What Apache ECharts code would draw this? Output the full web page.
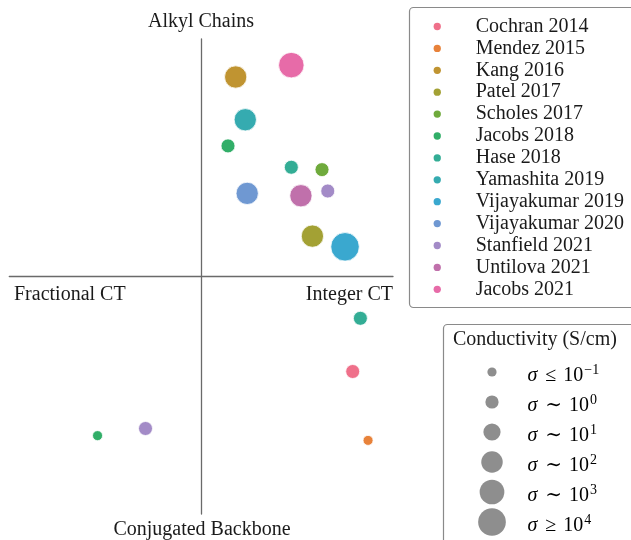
<!DOCTYPE html>
<html><head><meta charset="utf-8">
<script src="https://cdn.jsdelivr.net/npm/echarts@6/dist/echarts.min.js"></script>
<style>html,body{margin:0;padding:0;background:#fff}#c{width:631px;height:540px}</style>
</head><body><div id="c"></div>
<script>
// ---- data ----
const studies = ['Cochran 2014','Mendez 2015','Kang 2016','Patel 2017','Scholes 2017','Jacobs 2018','Hase 2018','Yamashita 2019','Vijayakumar 2019','Vijayakumar 2020','Stanfield 2021','Untilova 2021','Jacobs 2021'];
const pointStudy = ['Cochran 2014','Mendez 2015','Kang 2016','Patel 2017','Scholes 2017','Jacobs 2018','Jacobs 2018','Hase 2018','Hase 2018','Yamashita 2019','Vijayakumar 2019','Vijayakumar 2020','Stanfield 2021','Stanfield 2021','Untilova 2021','Jacobs 2021'];
// x: fractional (-) vs integer (+) charge transfer; y: conjugated backbone (-) vs alkyl chains (+)
const pointX = [0.79, 0.87, 0.18, 0.58, 0.63, 0.14, -0.54, 0.47, 0.83, 0.23, 0.75, 0.24, 0.66, -0.29, 0.52, 0.47];
const pointY = [-0.40, -0.69, 0.84, 0.17, 0.45, 0.55, -0.67, 0.46, -0.176, 0.66, 0.125, 0.35, 0.36, -0.64, 0.34, 0.89];
const pointLogSigma = [0, -1, 2, 2, 0, 0, -1, 0, 0, 2, 4, 2, 0, 0, 2, 3];
const sigmaLevels = [-1, 0, 1, 2, 3, 4];
const sigmaRelations = ['≤', '∼', '∼', '∼', '∼', '≥'];
const quadrantLabels = { top: 'Alkyl Chains', bottom: 'Conjugated Backbone', left: 'Fractional CT', right: 'Integer CT' };
const sizeLegendTitle = 'Conductivity (S/cm)';

// ---- styles ----
const colors = ['#ef708a','#e8823a','#c09431','#a3a134','#6faa3c','#31ae68','#33ad95','#35abb0','#3aa8cf','#6f98d2','#a38bc7','#c070ab','#e76ba8'];
const markerSizes = [10, 14, 18, 22.3, 25.5, 28.5];
const FONT = '"Liberation Serif", "DejaVu Serif", serif';
const TXT = '#1a1a1a';
const LINE = '#6a6a6a';
function sizeFor(ls) { return markerSizes[sigmaLevels.indexOf(ls)]; }

const series = studies.map((name, si) => {
  const data = [];
  pointStudy.forEach((s, i) => { if (s === name) data.push([pointX[i], pointY[i], pointLogSigma[i]]); });
  return {
    name, type: 'scatter', data,
    symbolSize: v => sizeFor(v[2]),
    itemStyle: { color: colors[si], borderColor: '#fff', borderWidth: 0.8, opacity: 1 },
    emphasis: { disabled: true }
  };
});

const graphic = [
  { type: 'text', x: 201, y: 22, style: { text: quadrantLabels.top, font: '20px ' + FONT, fill: TXT, align: 'center', verticalAlign: 'middle' } },
  { type: 'text', x: 202, y: 530, style: { text: quadrantLabels.bottom, font: '20px ' + FONT, fill: TXT, align: 'center', verticalAlign: 'middle' } },
  { type: 'text', x: 14, y: 295, style: { text: quadrantLabels.left, font: '20px ' + FONT, fill: TXT, align: 'left', verticalAlign: 'middle' } },
  { type: 'text', x: 393, y: 295, style: { text: quadrantLabels.right, font: '20px ' + FONT, fill: TXT, align: 'right', verticalAlign: 'middle' } },
  { type: 'rect', shape: { x: 409.5, y: 7.5, width: 240, height: 300, r: 4 }, style: { fill: 'none', stroke: '#8a8a8a', lineWidth: 1.2 }, z: 1 },
  { type: 'rect', shape: { x: 443.5, y: 324.5, width: 220, height: 240, r: 4 }, style: { fill: 'none', stroke: '#8a8a8a', lineWidth: 1.2 }, z: 1 },
  { type: 'text', x: 453, y: 340, style: { text: sizeLegendTitle, font: '20px ' + FONT, fill: TXT, align: 'left', verticalAlign: 'middle' } }
];
sigmaLevels.forEach((lv, i) => {
  const cy = 372 + 30 * i;
  graphic.push({ type: 'circle', shape: { cx: 492, cy, r: sizeFor(lv) / 2 - 0.4 }, style: { fill: '#8e8e8e' } });
  graphic.push({ type: 'text', x: 527.5, y: cy + 3.5, style: {
    text: '{i|σ}{g1| }{r|' + sigmaRelations[i] + '}{g2| }{n|10}{s|' + String(lv).replace('-', '−') + '}',
    verticalAlign: 'middle', align: 'left',
    rich: {
      i: { fontFamily: FONT, fontSize: 20, fontStyle: 'italic', color: TXT },
      g1: { fontFamily: FONT, fontSize: 20, width: 8 },
      r: { fontFamily: FONT, fontSize: 20, color: TXT },
      g2: { fontFamily: FONT, fontSize: 20, width: 7 },
      n: { fontFamily: FONT, fontSize: 20, color: TXT },
      s: { fontFamily: FONT, fontSize: 14, color: TXT, padding: [0, 0, 11, 1] }
    }
  } });
});

const chart = echarts.init(document.getElementById('c'), null, { renderer: 'canvas' });
chart.setOption({
  animation: false,
  backgroundColor: '#fff',
  grid: { left: 9.3, top: 39, width: 383.7, height: 475, containLabel: false },
  xAxis: { type: 'value', min: -1, max: 1, splitLine: { show: false }, axisTick: { show: false }, axisLabel: { show: false },
    axisLine: { show: true, onZero: true, lineStyle: { color: LINE, width: 1.3 } } },
  yAxis: { type: 'value', min: -1, max: 1, splitLine: { show: false }, axisTick: { show: false }, axisLabel: { show: false },
    axisLine: { show: true, onZero: true, lineStyle: { color: LINE, width: 1.3 } } },
  legend: {
    data: studies, orient: 'vertical', left: 433.6, top: 16.5, padding: 0,
    icon: 'circle', itemWidth: 7.3, itemHeight: 7.3, itemGap: 1.9, selectedMode: false,
    itemStyle: { borderWidth: 0 },
    textStyle: { fontFamily: FONT, fontSize: 20, color: TXT, lineHeight: 20, padding: [0, 0, 0, 29.8] }
  },
  graphic,
  series
});
</script></body></html>
